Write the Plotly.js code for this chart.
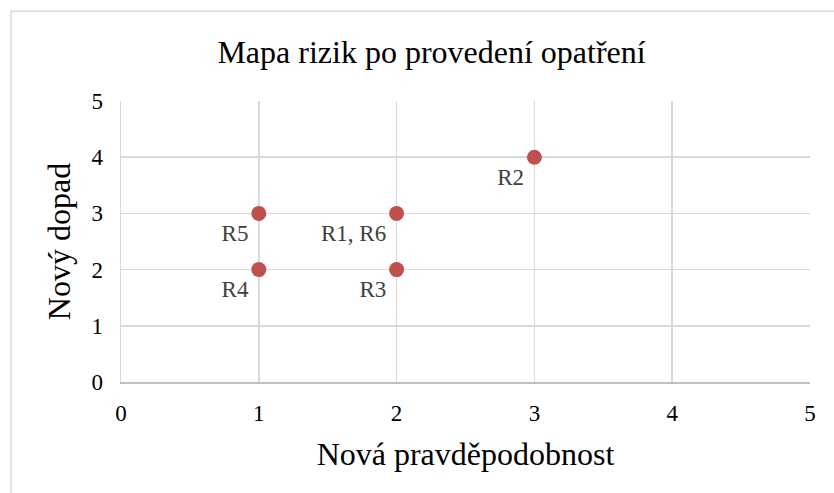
<!DOCTYPE html>
<html>
<head>
<meta charset="utf-8">
<script src="https://cdn.plot.ly/plotly-3.0.1.min.js"></script>
<style>html,body{margin:0;padding:0;background:#fff;}#chart{width:834px;height:493px;}</style>
</head>
<body>
<div id="chart"></div>
<script>
const probability = [1, 1, 2, 2, 3];
const impact = [3, 2, 3, 2, 4];
const riskLabels = ["R5", "R4", "R1, R6", "R3", "R2"];
const tickValues = [0, 1, 2, 3, 4, 5];

const serif = "'Liberation Serif', 'Times New Roman', serif";

const trace = {
  type: "scatter",
  mode: "markers+text",
  x: probability,
  y: impact,
  text: riskLabels,
  textposition: "bottom left",
  textfont: {family: serif, size: 23, color: "#404040"},
  marker: {color: "#C0504D", size: 15},
  hoverinfo: "none",
  cliponaxis: false
};

const layout = {
  width: 834, height: 493,
  margin: {l: 121, r: 24, t: 101, b: 111},
  paper_bgcolor: "#fff", plot_bgcolor: "#fff",
  showlegend: false,
  title: {text: "Mapa rizik po provedení opatření", font: {family: serif, size: 32, color: "#000"}, xref: "paper", x: 0.4507, xanchor: "center", y: 0.895, yanchor: "middle"},
  xaxis: {
    range: [0, 5], tickvals: tickValues, ticktext: tickValues.map(String),
    showgrid: true, gridcolor: "#d9d9d9", gridwidth: 1.5,
    zeroline: false, showline: true, linecolor: "#bfbfbf", linewidth: 1.5, mirror: false,
    ticks: "", ticklabelstandoff: 10,
    tickfont: {family: serif, size: 23, color: "#000"},
    title: {text: "Nová pravděpodobnost", font: {family: serif, size: 32, color: "#000"}, standoff: 17},
    automargin: false, fixedrange: true
  },
  yaxis: {
    range: [0, 5], tickvals: tickValues, ticktext: tickValues.map(String),
    showgrid: true, gridcolor: "#d9d9d9", gridwidth: 1.5,
    zeroline: false, showline: true, linecolor: "#d9d9d9", linewidth: 1.5,
    ticks: "", ticklabelstandoff: 12,
    tickfont: {family: serif, size: 23, color: "#000"},
    title: {text: "Nový dopad", font: {family: serif, size: 32, color: "#000"}, standoff: 11},
    automargin: false, fixedrange: true
  },
  shapes: [{
    type: "rect", xref: "paper", yref: "paper",
    x0: -0.1597, x1: 1.5, y0: -0.6, y1: 1.319,
    line: {color: "#d9d9d9", width: 1.5}, fillcolor: "rgba(0,0,0,0)", layer: "below"
  }]
};

Plotly.newPlot("chart", [trace], layout, {displayModeBar: false, staticPlot: true});
</script>
</body>
</html>
